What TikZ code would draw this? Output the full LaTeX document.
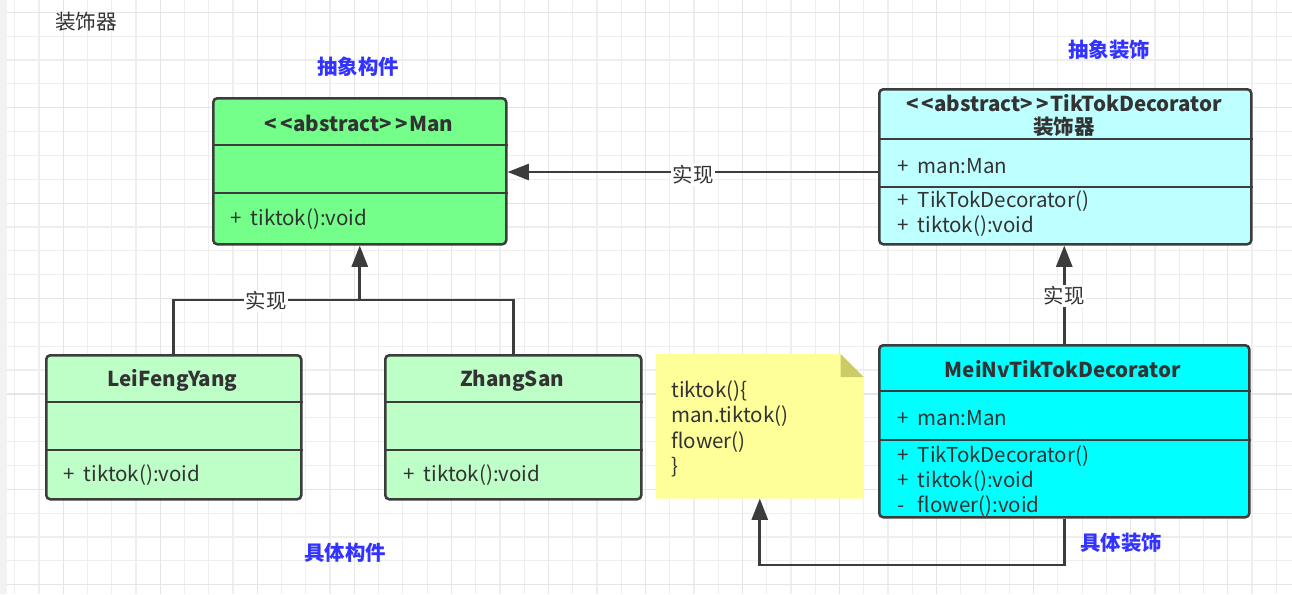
\documentclass[tikz,border=0pt]{standalone}
\usepackage{fontspec}
\setmainfont{Noto Sans CJK SC}
\usetikzlibrary{arrows.meta,calc}
\definecolor{txt}{HTML}{333333}
\definecolor{linec}{HTML}{3C3C3C}
\definecolor{blu}{RGB}{51,51,255}
\definecolor{gmain}{RGB}{115,255,138}
\definecolor{glight}{RGB}{190,255,200}
\definecolor{clight}{RGB}{190,255,255}
\definecolor{cfull}{RGB}{0,255,255}
\definecolor{noteY}{RGB}{255,255,153}
\definecolor{noteF}{RGB}{204,204,102}
\definecolor{gridminor}{HTML}{EEEEEE}
\definecolor{gridmajor}{HTML}{E5E5E5}
\newcommand\sgn[1]{\makebox[1.0em][l]{#1}}
\newcommand\stereo[1]{<\kern2.5pt<#1>\kern2.5pt>\kern1pt}
\begin{document}
\begin{tikzpicture}[x=0.75pt,y=-0.75pt,
  umlbox/.style={draw=linec,line width=1.9pt,rounded corners=3pt,inner sep=0pt,anchor=north west},
  divline/.style={draw=linec,line width=1.9pt},
  conn/.style={draw=linec,line width=2pt},
  arr/.style={conn,-{Triangle[length=16pt,width=12pt]}},
  head/.style={font=\fontsize{15.4}{18}\selectfont\bfseries,text=txt,inner sep=0pt,yshift=-1.3pt},
  memb/.style={font=\fontsize{15.4}{18}\selectfont,text=txt,inner sep=0pt,anchor=west,yshift=-1.3pt},
  blabel/.style={font=\fontsize{15.3}{18}\selectfont\bfseries,text=blu,inner sep=0pt},
  clabel/.style={font=\fontsize{15.3}{18}\selectfont,text=txt,fill=white,inner sep=1pt}
]
\useasboundingbox (0,0) rectangle (1292,594);
\fill[white] (0,0) rectangle (1292,594);
\fill[black!5] (0,0) rectangle (7,594);
% grid
\foreach \k in {0,...,52} {\draw[gridminor,line width=0.9pt] (14.7+24.26*\k,0) -- (14.7+24.26*\k,594);}
\foreach \k in {0,...,24} {\draw[gridminor,line width=0.9pt] (7,12.3+23.85*\k) -- (1292,12.3+23.85*\k);}
\foreach \k in {2,6,...,50} {\draw[gridmajor,line width=0.9pt] (14.7+24.26*\k,0) -- (14.7+24.26*\k,594);}
\foreach \k in {0,4,...,24} {\draw[gridmajor,line width=0.9pt] (7,12.3+23.85*\k) -- (1292,12.3+23.85*\k);}

% title
\node[font=\fontsize{15.5}{18}\selectfont,text=txt,inner sep=0pt,anchor=west] (title) at (55,22) {装饰器};

% blue labels
\node[blabel] (lblAC) at (358,67) {抽象构件};
\node[blabel] (lblAD) at (1109,50) {抽象装饰};
\node[blabel] (lblCC) at (345,553) {具体构件};
\node[blabel] (lblCD) at (1121,543) {具体装饰};

% Man
\node[umlbox,fill=gmain,minimum width=293*0.75pt,minimum height=146*0.75pt] (man) at (212,97) {};
\draw[divline] ($(man.north west)+(0,48)$) -- ($(man.north east)+(0,48)$);
\draw[divline] ($(man.north west)+(0,96)$) -- ($(man.north east)+(0,96)$);
\node[head] (manH) at (359,122) {\stereo{abstract}Man};
\node[memb] (manM) at (230,217) {\sgn{+}tiktok():void};

% TikTokDecorator
\node[umlbox,fill=clight,minimum width=372*0.75pt,minimum height=155*0.75pt] (ttd) at (878,88) {};
\draw[divline] ($(ttd.north west)+(0,51)$) -- ($(ttd.north east)+(0,51)$);
\draw[divline] ($(ttd.north west)+(0,99)$) -- ($(ttd.north east)+(0,99)$);
\node[head] (ttdH1) at (1064,101) {\stereo{abstract}TikTokDecorator};
\node[head] (ttdH2) at (1064,125) {装饰器};
\node[memb] (ttdA) at (897,164) {\sgn{+}man:Man};
\node[memb] (ttdM1) at (897,199) {\sgn{+}TikTokDecorator()};
\node[memb] (ttdM2) at (897,224) {\sgn{+}tiktok():void};

% LeiFengYang
\node[umlbox,fill=glight,minimum width=255*0.75pt,minimum height=144*0.75pt] (lfy) at (45,354) {};
\draw[divline] ($(lfy.north west)+(0,48)$) -- ($(lfy.north east)+(0,48)$);
\draw[divline] ($(lfy.north west)+(0,96)$) -- ($(lfy.north east)+(0,96)$);
\node[head] (lfyH) at (172.5,379) {LeiFengYang};
\node[memb] (lfyM) at (63,473) {\sgn{+}tiktok():void};

% ZhangSan
\node[umlbox,fill=glight,minimum width=256*0.75pt,minimum height=144*0.75pt] (zs) at (384,354) {};
\draw[divline] ($(zs.north west)+(0,48)$) -- ($(zs.north east)+(0,48)$);
\draw[divline] ($(zs.north west)+(0,96)$) -- ($(zs.north east)+(0,96)$);
\node[head] (zsH) at (512,379) {ZhangSan};
\node[memb] (zsM) at (403,473) {\sgn{+}tiktok():void};

% Note
\node[inner sep=0pt,anchor=north west,minimum width=207*0.75pt,minimum height=144*0.75pt] (note) at (656,354) {};
\fill[noteY] (note.north west) -- ($(note.north east)+(-23,0)$) -- ($(note.north east)+(0,23)$) -- (note.south east) -- (note.south west) -- cycle;
\fill[noteF] ($(note.north east)+(-23,0)$) -- ($(note.north east)+(-23,23)$) -- ($(note.north east)+(0,23)$) -- cycle;
\node[memb] (noteL1) at (671,389) {tiktok()\{};
\node[memb] (noteL2) at (671,414) {man.tiktok()};
\node[memb] (noteL3) at (671,440) {flower()};
\node[memb] (noteL4) at (671,465) {\}};

% MeiNvTikTokDecorator
\node[umlbox,fill=cfull,minimum width=370*0.75pt,minimum height=172*0.75pt] (mnv) at (878,344) {};
\draw[divline] ($(mnv.north west)+(0,47)$) -- ($(mnv.north east)+(0,47)$);
\draw[divline] ($(mnv.north west)+(0,96)$) -- ($(mnv.north east)+(0,96)$);
\node[head] (mnvH) at (1063,367) {MeiNvTikTokDecorator};
\node[memb] (mnvA) at (897,416) {\sgn{+}man:Man};
\node[memb] (mnvM1) at (897,454) {\sgn{+}TikTokDecorator()};
\node[memb] (mnvM2) at (897,479) {\sgn{+}tiktok():void};
\node[memb] (mnvM3) at (897,504) {\sgn{-}flower():void};

% connectors
\coordinate (rowA) at (0,172);
\draw[arr] (ttd.west |- rowA) -- (man.east |- rowA);
\node[clabel] (lab1) at (693,175) {实现};

\coordinate (rowT) at (0,300);
\draw[conn] (lfy.north) -- (lfy.north |- rowT) -- (zs.north |- rowT) -- (zs.north);
\draw[arr] (man.south |- rowT) -- (man.south);
\node[clabel] (lab2) at (266,301) {实现};

\draw[arr] (mnv.north) -- (mnv.north |- ttd.south);
\node[clabel] (lab3) at (1064,296) {实现};

\coordinate (rowB) at (0,565);
\draw[arr] (mnv.south) -- (mnv.south |- rowB) -- (note.south |- rowB) -- (note.south);
\end{tikzpicture}
\end{document}
